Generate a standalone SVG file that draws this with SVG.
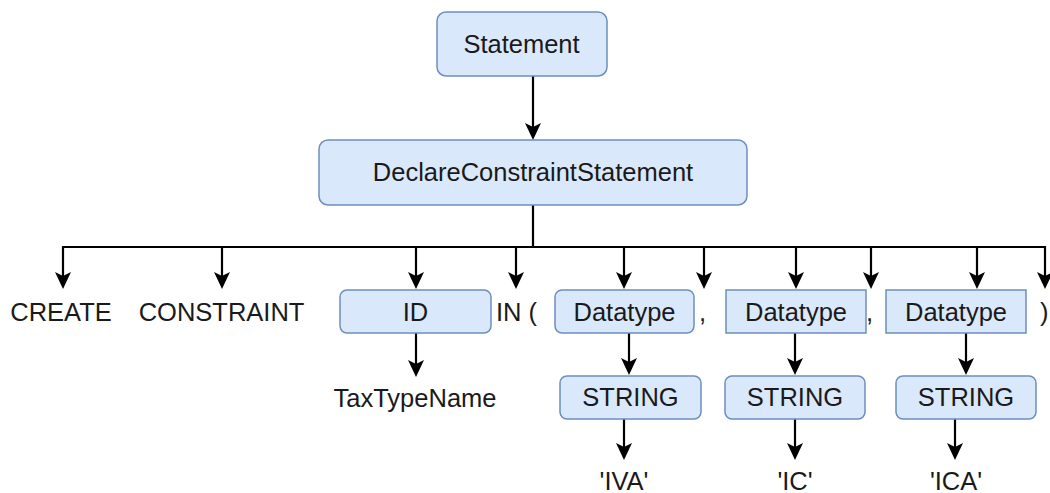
<svg xmlns="http://www.w3.org/2000/svg" width="1050" height="493" viewBox="0 0 1050 493">
<style>
.box{fill:#dae8fc;stroke:#6c8ebf;stroke-width:1.5}
.t{font-family:"Liberation Sans",Arial,sans-serif;font-size:25.5px;fill:#1a1a1a}
.m{text-anchor:middle}
.e{fill:none;stroke:#000;stroke-width:2.2}
</style>
<defs>
<marker id="arr" viewBox="0 0 17 16" markerWidth="17" markerHeight="16" markerUnits="userSpaceOnUse" refX="5" refY="8" orient="auto">
<path d="M0,0 L17,8 L0,16 L4,8 Z" fill="#000"/>
</marker>
</defs>
<rect width="1050" height="493" fill="#fff"/>
<g id="connectors">
<path class="e" d="M533,76 V128" marker-end="url(#arr)"/>
<path class="e" d="M533,205 V247 H63 V277" marker-end="url(#arr)"/>
<path class="e" d="M533,247 H222 V277" marker-end="url(#arr)"/>
<path class="e" d="M533,247 H416 V277" marker-end="url(#arr)"/>
<path class="e" d="M533,247 H516 V277" marker-end="url(#arr)"/>
<path class="e" d="M533,247 H624 V277" marker-end="url(#arr)"/>
<path class="e" d="M533,247 H704 V277" marker-end="url(#arr)"/>
<path class="e" d="M533,247 H796 V277" marker-end="url(#arr)"/>
<path class="e" d="M533,247 H871 V277" marker-end="url(#arr)"/>
<path class="e" d="M533,247 H977 V277" marker-end="url(#arr)"/>
<path class="e" d="M533,247 H1045 V277" marker-end="url(#arr)"/>
<path class="e" d="M416,333 V365" marker-end="url(#arr)"/>
<path class="e" d="M629,333 V363" marker-end="url(#arr)"/>
<path class="e" d="M795,333 V363" marker-end="url(#arr)"/>
<path class="e" d="M966,333 V363" marker-end="url(#arr)"/>
<path class="e" d="M624,419 V448" marker-end="url(#arr)"/>
<path class="e" d="M795,419 V448" marker-end="url(#arr)"/>
<path class="e" d="M955,419 V448" marker-end="url(#arr)"/>
</g>
<g id="statement"><rect class="box" x="437" y="12" width="170" height="64" rx="9"/><text class="t m" x="521.5" y="53">Statement</text></g>
<g id="declare"><rect class="box" x="319" y="140" width="428" height="65" rx="9"/><text class="t m" x="533" y="181">DeclareConstraintStatement</text></g>
<g id="create"><text class="t m" x="61" y="321">CREATE</text></g>
<g id="constraint"><text class="t m" x="221.5" y="321">CONSTRAINT</text></g>
<g id="id"><rect class="box" x="340" y="290" width="151" height="43" rx="7"/><text class="t m" x="415.5" y="321">ID</text></g>
<g id="in"><text class="t" x="496" y="321">IN (</text></g>
<g id="dt1"><rect class="box" x="555" y="290" width="139" height="43" rx="7"/><text class="t m" x="624.5" y="321">Datatype</text></g>
<g id="comma1"><text class="t" x="699" y="321">,</text></g>
<g id="dt2"><rect class="box" x="726" y="290" width="140" height="43"/><text class="t m" x="796" y="321">Datatype</text></g>
<g id="comma2"><text class="t" x="866" y="321">,</text></g>
<g id="dt3"><rect class="box" x="886" y="290" width="140" height="43"/><text class="t m" x="956" y="321">Datatype</text></g>
<g id="close"><text class="t" x="1040" y="321">)</text></g>
<g id="taxtypename"><text class="t m" x="415" y="407">TaxTypeName</text></g>
<g id="str1"><rect class="box" x="560" y="376" width="141" height="43" rx="7"/><text class="t m" x="630.5" y="406">STRING</text></g>
<g id="str2"><rect class="box" x="725" y="376" width="140" height="43" rx="7"/><text class="t m" x="795" y="406">STRING</text></g>
<g id="str3"><rect class="box" x="896" y="376" width="140" height="43" rx="7"/><text class="t m" x="966" y="406">STRING</text></g>
<g id="iva"><text class="t m" x="624" y="490">'IVA'</text></g>
<g id="ic"><text class="t m" x="795" y="490">'IC'</text></g>
<g id="ica"><text class="t m" x="956" y="490">'ICA'</text></g>
</svg>
